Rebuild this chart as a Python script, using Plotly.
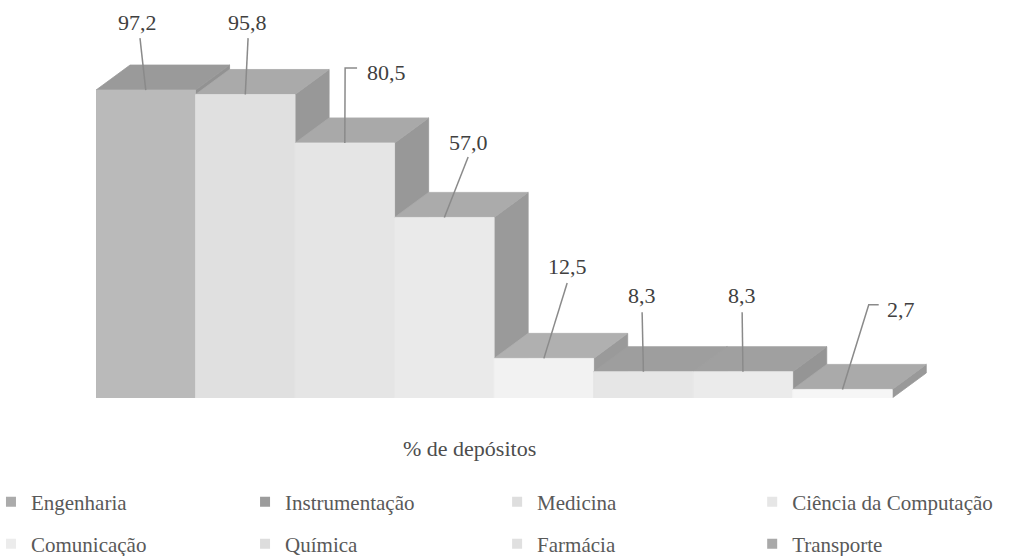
import plotly.graph_objects as go

# ---- data ----
categories = ["Engenharia", "Instrumentação", "Medicina", "Ciência da Computação",
              "Comunicação", "Química", "Farmácia", "Transporte"]
values = [97.2, 95.8, 80.5, 57.0, 12.5, 8.3, 8.3, 2.7]
value_labels = ["97,2", "95,8", "80,5", "57,0", "12,5", "8,3", "8,3", "2,7"]
axis_title = "% de depósitos"

# ---- styles ----
front_colors = ["#bababa", "#e0e0e0", "#e5e5e5", "#eaeaea", "#f2f2f2", "#e6e6e6", "#ebebeb", "#f6f6f6"]
top_colors = ["#9a9a9a", "#aaaaaa", "#a9a9a9", "#ababab", "#b0b0b0", "#9e9e9e", "#a0a0a0", "#aaaaaa"]
side_colors = ["#929292", "#989898", "#989898", "#9a9a9a", "#9a9a9a", "#959595", "#959595", "#999999"]
legend_colors = ["#ababab", "#9c9c9c", "#dedede", "#e6e6e6", "#ececec", "#dddddd", "#e0e0e0", "#a9a9a9"]

DX, DY = 0.342, 7.9      # depth offset of the 3D effect (data units)
BAR_W = 1.0

label_text_pos = [(-0.083, 118.4), (1.018, 118.4), (2.415, 102.9), (3.239, 80.8),
                  (4.234, 41.4), (4.987, 32.5), (5.992, 32.5), (7.59, 27.8)]
leader_start = [[(-0.058, 113.6)], [(1.028, 113.6)], [(2.123, 104.2), (2.003, 104.2)],
                [(3.239, 76.1)], [(4.234, 36.3)], [(4.987, 27.1)], [(5.992, 27.1)],
                [(7.364, 29.4), (7.264, 29.4)]]

legend_pos = [(31, 502), (285, 502), (537, 502), (792, 502),
              (31, 544), (285, 544), (537, 544), (792, 544)]

W, H = 1026, 556
FONT = "serif"

L = 96
PW = 8.5 * 99.5
R = W - (L + PW)
T, B = 2, 158
PH = H - T - B


def paper_x(px):
    return (px - L) / PW


def paper_y(py):
    return (H - B - py) / PH


fig = go.Figure()


def poly(xs, ys, color):
    fig.add_trace(go.Scatter(x=xs + [xs[0]], y=ys + [ys[0]], mode="lines", fill="toself",
                             fillcolor=color, line=dict(color=color, width=0.8),
                             hoverinfo="skip", showlegend=False))


for i, v in enumerate(values):
    x0, x1 = i - BAR_W / 2, i + BAR_W / 2
    poly([x1, x1, x1 + DX, x1 + DX], [0, v, v + DY, DY], side_colors[i])      # side
    poly([x0, x1, x1 + DX, x0 + DX], [v, v, v + DY, v + DY], top_colors[i])  # top
    poly([x0, x1, x1, x0], [0, 0, v, v], front_colors[i])                     # front

for i, v in enumerate(values):
    pts = leader_start[i] + [(i, v)]
    fig.add_trace(go.Scatter(x=[p[0] for p in pts], y=[p[1] for p in pts], mode="lines",
                             line=dict(color="#8a8a8a", width=1.5), hoverinfo="skip",
                             showlegend=False))
    tx, ty = label_text_pos[i]
    fig.add_annotation(x=tx, y=ty, text=value_labels[i], showarrow=False,
                       xanchor="center", yanchor="middle",
                       font=dict(family=FONT, size=22, color="#404040"))

fig.add_annotation(x=paper_x(469), y=paper_y(448), xref="paper", yref="paper", text=axis_title,
                   showarrow=False, xanchor="center", yanchor="middle",
                   font=dict(family=FONT, size=22, color="#4d4d4d"))

legend_layouts = {}
for i, name in enumerate(categories):
    key = "legend" if i == 0 else f"legend{i + 1}"
    fig.add_trace(go.Scatter(x=[None], y=[None], mode="markers", name=name,
                             marker=dict(symbol="square", size=10, color=legend_colors[i]),
                             legend=key, hoverinfo="skip"))
    px, py = legend_pos[i]
    legend_layouts[key] = dict(xref="paper", yref="paper",
                               x=paper_x(px - 40), y=paper_y(py),
                               xanchor="left", yanchor="middle",
                               bgcolor="rgba(0,0,0,0)", borderwidth=0,
                               font=dict(family=FONT, size=21, color="#595959"),
                               itemwidth=30)

fig.update_layout(
    width=W, height=H,
    margin=dict(l=L, r=R, t=T, b=B, autoexpand=False),
    paper_bgcolor="white", plot_bgcolor="white",
    xaxis=dict(range=[-0.5, 8.0], visible=False, fixedrange=True),
    yaxis=dict(range=[0, 125], visible=False, fixedrange=True),
    showlegend=True,
    **legend_layouts,
)

fig.write_html("out.html")
